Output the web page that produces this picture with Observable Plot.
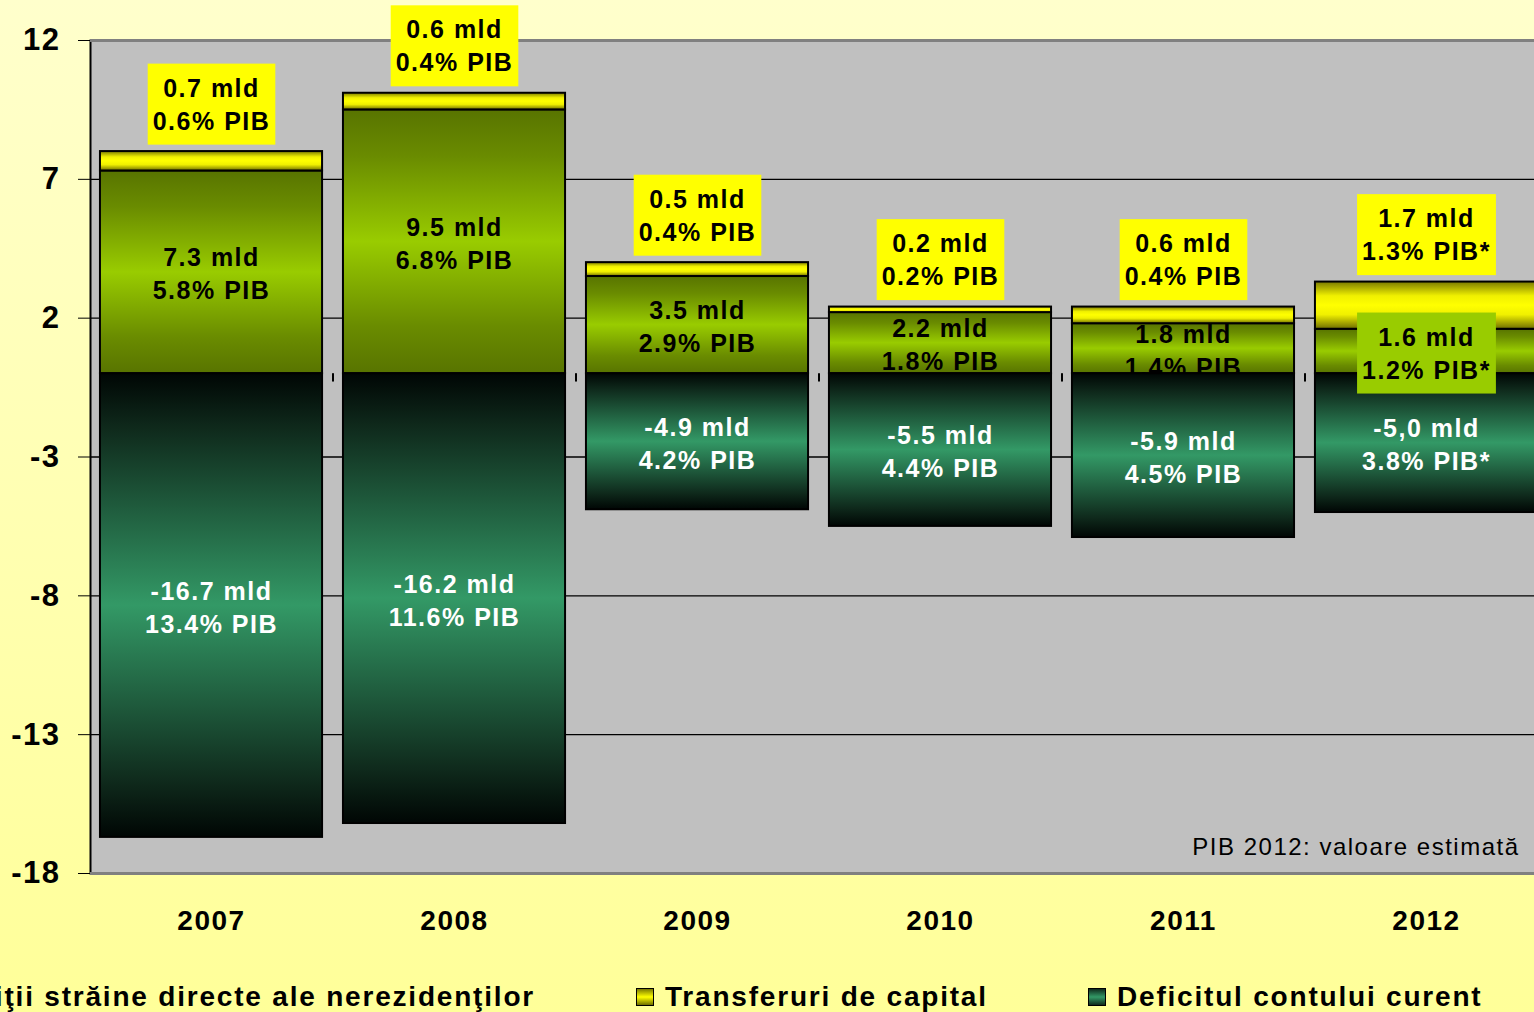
<!DOCTYPE html>
<html><head><meta charset="utf-8">
<script src="https://cdn.jsdelivr.net/npm/d3@7"></script>
<script src="https://cdn.jsdelivr.net/npm/@observablehq/plot@0.6"></script>
<style>
html,body{margin:0;padding:0;width:1534px;height:1012px;overflow:hidden;}
body{background:linear-gradient(#ffffcc,#ffff99);font-family:"Liberation Sans",Arial,sans-serif;position:relative;}
#wrap{position:absolute;left:0;top:0;width:1534px;height:960px;overflow:hidden;}
#wrap svg{display:block;max-width:none !important;}
#wrap svg text{letter-spacing:1.5px;}
g[aria-label^="y-axis"] text{font-size:31px;font-weight:bold;letter-spacing:1px;}
g[aria-label^="x-axis"] text{font-size:28px;font-weight:bold;}
#legend{position:absolute;left:0;top:960px;width:1534px;height:52px;}
.item{position:absolute;top:21px;display:flex;align-items:center;white-space:nowrap;font-weight:bold;font-size:28px;letter-spacing:1.8px;line-height:32px;color:#000;}
.sw{width:16px;height:16px;border:1px solid #000;margin-right:11px;flex:none;}
</style>
</head><body>
<div id="wrap"></div>
<div id="legend"></div>
<script>
const years = ["2007", "2008", "2009", "2010", "2011", "2012"];
const fdi = [7.3, 9.5, 3.5, 2.2, 1.8, 1.6];
const fdiPct = ["5.8% PIB", "6.8% PIB", "2.9% PIB", "1.8% PIB", "1.4% PIB", "1.2% PIB*"];
const transfers = [0.7, 0.6, 0.5, 0.2, 0.6, 1.7];
const transfersPct = ["0.6% PIB", "0.4% PIB", "0.4% PIB", "0.2% PIB", "0.4% PIB", "1.3% PIB*"];
const deficit = [-16.7, -16.2, -4.9, -5.5, -5.9, -5.0];
const deficitLbl = ["-16.7", "-16.2", "-4.9", "-5.5", "-5.9", "-5,0"];
const deficitPct = ["13.4% PIB", "11.6% PIB", "4.2% PIB", "4.4% PIB", "4.5% PIB", "3.8% PIB*"];
const yTicks = [12, 7, 2, -3, -8, -13, -18];
const seriesNames = ["Investiţii străine directe ale nerezidenţilor", "Transferuri de capital", "Deficitul contului curent"];
const note = "PIB 2012: valoare estimată";

const rows = years.map((year, i) => ({
  year,
  fdi: fdi[i],
  top: fdi[i] + transfers[i],
  def: deficit[i],
  fdiText: `${fdi[i].toFixed(1)} mld\n${fdiPct[i]}`,
  trText: `${transfers[i].toFixed(1)} mld\n${transfersPct[i]}`,
  defText: `${deficitLbl[i]} mld\n${deficitPct[i]}`
}));

const W = 1547, ML = 90;
const padIn = 0.086, padOut = 0.041;
const step = (W - ML) / (years.length - padIn + 2 * padOut);
const lbl = {fontSize: 25, fontWeight: "bold", lineHeight: 1.32, lineAnchor: "middle"};

const chart = Plot.plot({
  width: W, height: 960,
  marginLeft: ML, marginRight: 0, marginTop: 40, marginBottom: 87,
  style: {fontFamily: "'Liberation Sans', Arial, sans-serif", background: "transparent", maxWidth: "none", overflow: "visible"},
  x: {domain: years, paddingInner: padIn, paddingOuter: padOut, round: false, tickSize: 0, tickPadding: 37, label: null},
  y: {domain: [-18, 12], ticks: yTicks, tickSize: 12, tickPadding: 18, label: null, tickFormat: d => String(d)},
  marks: [
    Plot.frame({fill: "#c0c0c0", stroke: "#000", strokeWidth: 2}),
    Plot.ruleY(yTicks.slice(1, -1), {stroke: "#000", strokeWidth: 1.3}),
    Plot.ruleY([12, -18], {stroke: "#808080", strokeWidth: 3}),
    Plot.barY(rows, {x: "year", y1: 0, y2: "fdi", fill: "url(#gFdi)", stroke: "#000", strokeWidth: 2}),
    Plot.barY(rows, {x: "year", y1: "fdi", y2: "top", fill: "url(#gTr)", stroke: "#000", strokeWidth: 2}),
    Plot.text(rows.filter(d => d.year !== "2012"), {x: "year", y: d => d.fdi / 2, text: "fdiText", ...lbl, fill: "#000"}),
    Plot.barY(rows, {x: "year", y1: 0, y2: "def", fill: "url(#gDef)", stroke: "#000", strokeWidth: 2}),
    Plot.text(rows, {x: "year", y: d => d.def / 2, text: "defText", ...lbl, fill: "#fff"}),
    Plot.text(rows.filter(d => d.year === "2012"), {x: "year", y: d => d.fdi / 2, text: "fdiText", ...lbl, fill: "#000", ariaDescription: "fdi-boxed"}),
    Plot.text(rows, {x: "year", y: "top", dy: -49, text: "trText", ...lbl, fill: "#000", ariaDescription: "tr-boxed"}),
    Plot.ruleX(years.slice(1), {x: d => d, y1: 0, y2: -0.3, dx: -step / 2, stroke: "#000", strokeWidth: 2}),
    Plot.text([note], {frameAnchor: "bottom-right", dx: -28, dy: -19, fontSize: 24, fill: "#000", lineAnchor: "bottom"})
  ]
});
document.getElementById("wrap").appendChild(chart);

const svg = d3.select(chart.tagName.toLowerCase() === "svg" ? chart : chart.querySelector("svg"));
const defs = svg.insert("defs", ":first-child");
function grad(id, stops) {
  const g = defs.append("linearGradient").attr("id", id).attr("x1", 0).attr("y1", 0).attr("x2", 0).attr("y2", 1);
  stops.forEach(([o, c]) => g.append("stop").attr("offset", o).attr("stop-color", c));
}
grad("gFdi", [[0, "#587400"], [0.18, "#6a8c00"], [0.5, "#99cc00"], [0.82, "#6a8c00"], [1, "#587400"]]);
grad("gTr", [[0, "#7a7a00"], [0.3, "#f0f000"], [0.5, "#ffff00"], [0.7, "#f0f000"], [1, "#6e6e00"]]);
grad("gDef", [[0, "#000604"], [0.12, "#0f2a1c"], [0.5, "#339966"], [0.88, "#0f2a1c"], [1, "#000604"]]);

function boxes(desc, color, px, py) {
  svg.selectAll(`g[aria-description="${desc}"] text`).each(function () {
    const b = this.getBBox();
    const r = document.createElementNS("http://www.w3.org/2000/svg", "rect");
    r.setAttribute("x", b.x - px);
    r.setAttribute("y", b.y - py);
    r.setAttribute("width", b.width + 2 * px);
    r.setAttribute("height", b.height + 2 * py);
    r.setAttribute("fill", color);
    const t = this.getAttribute("transform");
    if (t) r.setAttribute("transform", t);
    this.parentNode.insertBefore(r, this);
  });
}
boxes("tr-boxed", "#ffff00", 5, 10);
boxes("fdi-boxed", "#99cc00", 5, 10);

// legend
const swatches = ["linear-gradient(#587400,#99cc00,#587400)", "linear-gradient(#7a7a00,#ffff00,#6e6e00)", "linear-gradient(#0f2a1c,#339966,#0f2a1c)"];
const legend = d3.select("#legend");
const pos = [{right: "999px"}, {left: "636px"}, {left: "1088px"}];
seriesNames.forEach((name, i) => {
  const it = legend.append("div").attr("class", "item");
  Object.entries(pos[i]).forEach(([k, v]) => it.style(k, v));
  it.append("div").attr("class", "sw").style("background", swatches[i]);
  it.append("span").text(name);
});
</script>
</body></html>
